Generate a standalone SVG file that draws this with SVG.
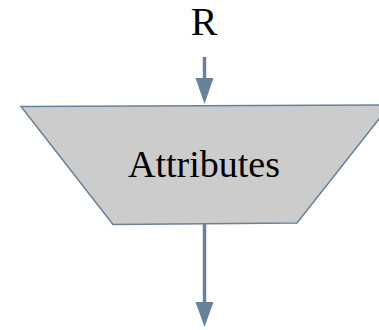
<svg xmlns="http://www.w3.org/2000/svg" width="379" height="330" viewBox="0 0 379 330">
<style>
.lbl{font-family:"Liberation Serif","Times New Roman",serif;fill:#000;text-anchor:middle}
.edge{stroke:#68829b;stroke-width:3.5;fill:none}
.head{fill:#68829b}
</style>
<rect width="379" height="330" fill="#fff"/>
<g id="node-R">
<text class="lbl" x="204" y="35" font-size="40">R</text>
</g>
<g id="node-attributes">
<polygon points="21,106.5 390,105 297,223 113,224.5" fill="#cccccc" stroke="#68829b" stroke-width="1.5"/>
<text class="lbl" x="204" y="177" font-size="38">Attributes</text>
</g>
<g id="connectors">
<line class="edge" x1="204.5" y1="57" x2="204.5" y2="80"/>
<polygon class="head" points="195.5,78 213.5,78 204.5,104"/>
<line class="edge" x1="204.5" y1="224" x2="204.5" y2="304"/>
<polygon class="head" points="195.5,302 213.5,302 204.5,327"/>
</g>
</svg>
